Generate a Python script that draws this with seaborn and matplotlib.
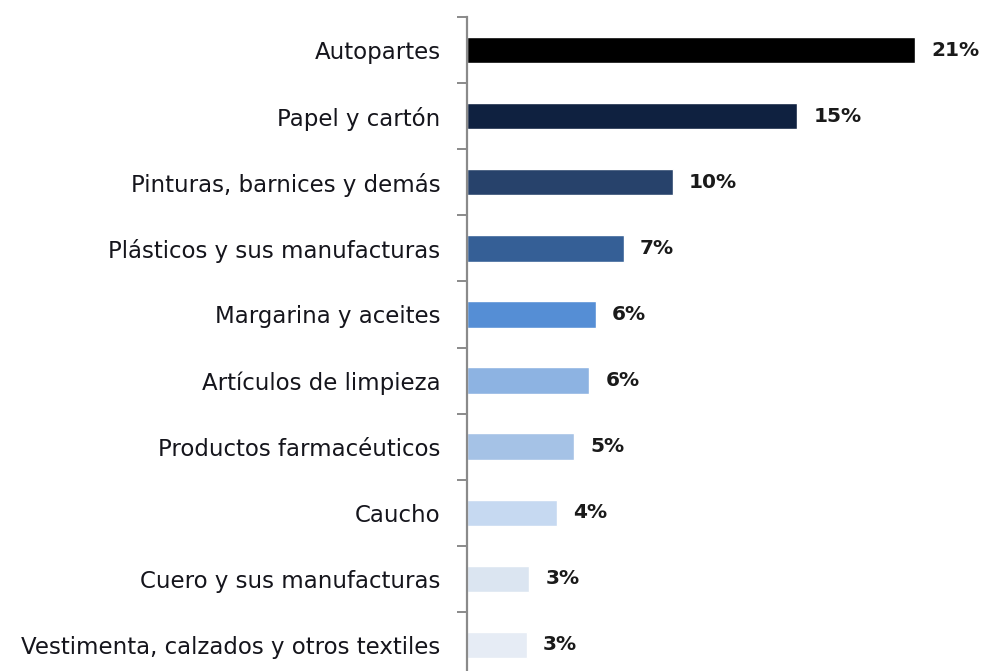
import matplotlib
matplotlib.use("Agg")
import matplotlib.pyplot as plt
import seaborn as sns
import pandas as pd
import numpy as np

# Participación por sector (%)
categories = [
    "Autopartes",
    "Papel y cartón",
    "Pinturas, barnices y demás",
    "Plásticos y sus manufacturas",
    "Margarina y aceites",
    "Artículos de limpieza",
    "Productos farmacéuticos",
    "Caucho",
    "Cuero y sus manufacturas",
    "Vestimenta, calzados y otros textiles",
]
shares = [20.9, 15.4, 9.6, 7.3, 6.0, 5.7, 5.0, 4.2, 2.9, 2.8]
bar_colors = [
    "#000000", "#0f2140", "#27426b", "#355f96", "#558ed5",
    "#8db3e2", "#a5c2e6", "#c6d9f1", "#dbe5f1", "#e6ecf5",
]

df = pd.DataFrame({"sector": categories, "share": shares})

sns.set_theme(style="white")
plt.rcParams["font.family"] = ["DejaVu Sans"]

fig = plt.figure(figsize=(9.82, 6.71), dpi=100)
ax = fig.add_axes([467 / 982, -7 / 671, 515 / 982, 661 / 671])

sns.barplot(
    data=df, x="share", y="sector", hue="sector",
    palette=dict(zip(categories, bar_colors)),
    orient="h", width=0.4, legend=False, ax=ax, saturation=1,
)

ax.set_xlim(0, 24)
ax.set_ylim(len(categories) - 0.5, -0.5)
ax.set_xlabel("")
ax.set_ylabel("")
ax.xaxis.set_visible(False)

for side in ("top", "right", "bottom"):
    ax.spines[side].set_visible(False)
ax.spines["left"].set_color("#8a8a8a")
ax.spines["left"].set_linewidth(1.6)

# category labels without tick marks; tick marks sit between categories
ax.tick_params(axis="y", which="major", left=False, length=0, pad=19,
               labelsize=16.5, labelcolor="#15151c")
ax.set_yticks(np.arange(-0.5, len(categories) + 0.5, 1.0), minor=True)
ax.tick_params(axis="y", which="minor", left=True, length=7.5, width=1.4,
               color="#8a8a8a", direction="out")

for i, v in enumerate(shares):
    ax.annotate(f"{v:.0f}%", xy=(v, i), xytext=(11.5, 0),
                textcoords="offset points", va="center", ha="left",
                fontsize=14.5, fontweight="bold", color="#1a1a1a")

fig.savefig("out.png", dpi=100)
